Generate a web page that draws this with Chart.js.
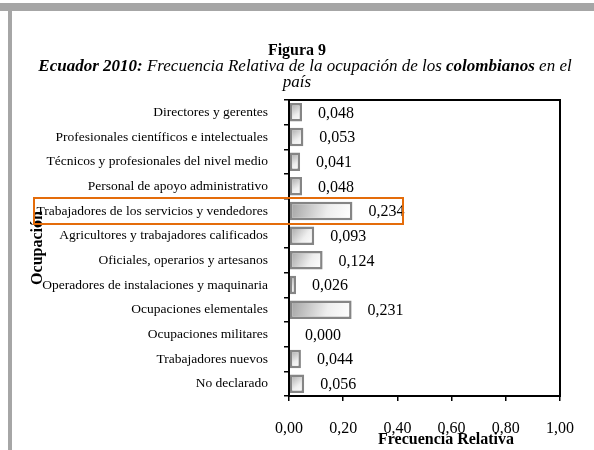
<!DOCTYPE html>
<html>
<head>
<meta charset="utf-8">
<script src="https://cdn.jsdelivr.net/npm/chart.js@4/dist/chart.umd.min.js"></script>
<style>
body { margin: 0; background: #fff; }
</style>
</head>
<body>
<canvas id="grafico" width="594" height="450"></canvas>
<script>
var ocupaciones = [
    'Directores y gerentes',
    'Profesionales científicos e intelectuales',
    'Técnicos y profesionales del nivel medio',
    'Personal de apoyo administrativo',
    'Trabajadores de los servicios y vendedores',
    'Agricultores y trabajadores calificados',
    'Oficiales, operarios y artesanos',
    'Operadores de instalaciones y maquinaria',
    'Ocupaciones elementales',
    'Ocupaciones militares',
    'Trabajadores nuevos',
    'No declarado'
];
var frecuencia = [0.048, 0.053, 0.041, 0.048, 0.234, 0.093, 0.124, 0.026, 0.231, 0.000, 0.044, 0.056];
var ticksX = [0, 0.2, 0.4, 0.6, 0.8, 1.0];
var resaltado = 'Trabajadores de los servicios y vendedores';

var serif = '"Liberation Serif", "Times New Roman", serif';

function coma(v, d) {
    return v.toFixed(d).replace('.', ',');
}

// marco gris, titulo, recuadro naranja, etiquetas de valor
var extras = {
    id: 'extras',
    beforeDraw: function (chart) {
        var c = chart.ctx;
        c.save();
        c.fillStyle = '#a6a6a6';
        c.fillRect(0, 3, 594, 8);
        c.fillRect(8, 3, 4, 447);
        c.restore();
    },
    beforeDatasetsDraw: function (chart) {
        var c = chart.ctx;
        chart.getDatasetMeta(0).data.forEach(function (bar) {
            var h = bar.height / 2;
            var g = c.createLinearGradient(bar.base, bar.y - h, Math.max(bar.x, bar.base + 1), bar.y + h);
            g.addColorStop(0, '#a0a0a0');
            g.addColorStop(0.6, '#eeeeee');
            g.addColorStop(1, '#ffffff');
            bar.options.backgroundColor = g;
        });
    },
    afterDraw: function (chart) {
        var c = chart.ctx;
        var area = chart.chartArea;
        c.save();

        // caja del grafico
        c.strokeStyle = '#000';
        c.lineWidth = 2;
        c.strokeRect(area.left, area.top, area.right - area.left, area.bottom - area.top);

        // valores
        c.fillStyle = '#000';
        c.font = '16px ' + serif;
        c.textAlign = 'left';
        c.textBaseline = 'middle';
        chart.getDatasetMeta(0).data.forEach(function (bar, i) {
            c.fillText(coma(frecuencia[i], 3), bar.x + 16, bar.y + 1);
        });

        // titulo
        c.textAlign = 'center';
        c.font = 'bold 16px ' + serif;
        c.fillText('Figura 9', 297, 51);
        var partes = [
            ['bold italic', 'Ecuador 2010:'],
            ['italic', ' Frecuencia Relativa de la ocupación de los '],
            ['bold italic', 'colombianos'],
            ['italic', ' en el']
        ];
        var total = 0;
        partes.forEach(function (p) {
            c.font = p[0] + ' 17px ' + serif;
            total += c.measureText(p[1]).width;
        });
        var x = 305 - total / 2;
        c.textAlign = 'left';
        partes.forEach(function (p) {
            c.font = p[0] + ' 17px ' + serif;
            c.fillText(p[1], x, 67);
            x += c.measureText(p[1]).width;
        });
        c.textAlign = 'center';
        c.font = 'italic 17px ' + serif;
        c.fillText('país', 297, 83);

        // titulo eje x
        c.font = 'bold 16px ' + serif;
        c.fillText('Frecuencia Relativa', 446, 440);

        // recuadro naranja
        var yy = chart.scales.y.getPixelForValue(ocupaciones.indexOf(resaltado));
        c.strokeStyle = '#e46c0a';
        c.lineWidth = 2;
        c.strokeRect(34, yy - 13, 369, 26);
        c.restore();
    }
};

var ctx = document.getElementById('grafico').getContext('2d');
var chart = new Chart(ctx, {
    type: 'bar',
    data: {
        labels: ocupaciones,
        datasets: [{
            data: frecuencia,
            // scriptable so every bar keeps its own options (own gradient)
            backgroundColor: function () { return '#dddddd'; },
            borderColor: '#858585',
            borderWidth: 2.5,
            borderSkipped: false,
            barPercentage: 0.75,
            categoryPercentage: 1
        }]
    },
    options: {
        indexAxis: 'y',
        responsive: false,
        animation: false,
        layout: { padding: { top: 100, right: 34, left: 0, bottom: 0 } },
        plugins: {
            legend: { display: false },
            tooltip: { enabled: false }
        },
        scales: {
            x: {
                min: 0,
                max: 1,
                afterBuildTicks: function (scale) {
                    scale.ticks = ticksX.map(function (v) { return { value: v }; });
                },
                afterFit: function (scale) { scale.height = 54; },
                grid: { drawOnChartArea: false, drawTicks: true, tickLength: 5, color: '#000', lineWidth: 1.5 },
                border: { display: true, color: '#000', width: 2 },
                ticks: {
                    padding: 18,
                    color: '#000',
                    maxRotation: 0,
                    font: { family: serif, size: 16 },
                    callback: function (v) { return coma(v, 2); }
                }
            },
            y: {
                offset: true,
                afterFit: function (scale) { scale.width = 289; },
                grid: { offset: true, drawOnChartArea: false, drawTicks: true, tickLength: 5, color: '#000', lineWidth: 1.5 },
                border: { display: true, color: '#000', width: 2 },
                title: {
                    display: true,
                    text: 'Ocupación',
                    color: '#000',
                    font: { family: serif, size: 16, weight: 'bold' },
                    padding: { top: 28, bottom: 0 }
                },
                ticks: {
                    padding: 16,
                    color: '#000',
                    autoSkip: false,
                    font: { family: serif, size: 13.5 }
                }
            }
        }
    },
    plugins: [extras]
});
</script>
</body>
</html>
